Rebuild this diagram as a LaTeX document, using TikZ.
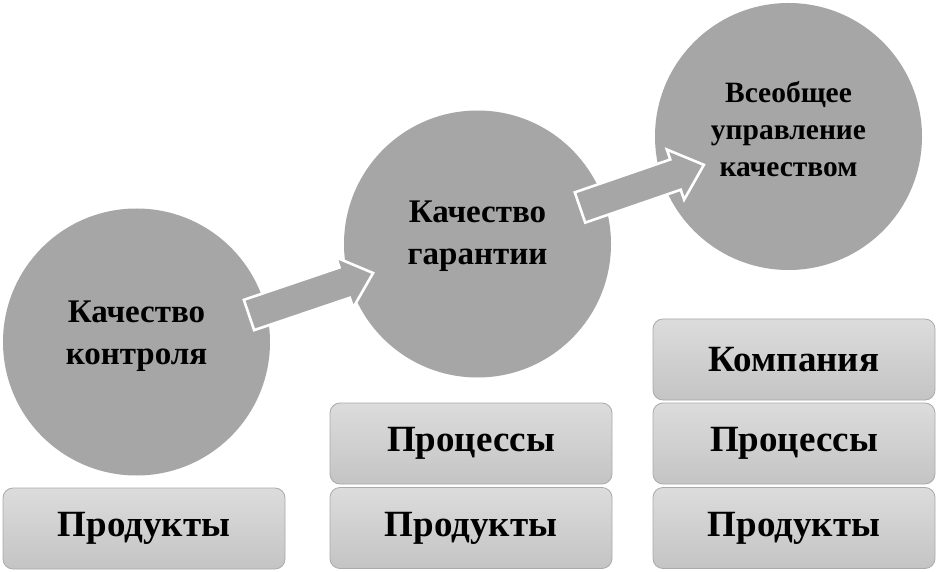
\documentclass[tikz,border=0pt]{standalone}
\usepackage{fontspec}
\setmainfont{Liberation Serif}
\tikzset{
  circ/.style={circle, fill=circgray, draw=none, minimum size=267pt, inner sep=0pt},
  ctext/.style={align=center, font=\bfseries\fontsize{33}{42}\selectfont, text=black},
  ctextsmall/.style={align=center, font=\bfseries\fontsize{29.5}{37}\selectfont, text=black},
  boxnode/.style={rectangle, rounded corners=10pt, draw=boxborder, line width=0.8pt,
    top color=boxtop, bottom color=boxbot, minimum width=282pt, minimum height=81pt,
    inner sep=0pt, font=\bfseries\fontsize{37}{42}\selectfont},
  blockarrow/.style={fill=circgray, draw=white, line width=2.6pt, line join=miter}
}
\definecolor{circgray}{HTML}{A6A6A6}
\definecolor{boxtop}{HTML}{DCDCDC}
\definecolor{boxbot}{HTML}{C4C4C4}
\definecolor{boxborder}{HTML}{AAAAAA}
\begin{document}
\begin{tikzpicture}[x=1pt,y=1pt]
\useasboundingbox (0,0) rectangle (937,571);
\fill[white] (0,0) rectangle (937,571);
% circles
\node[circ] (c1) at (136.5,229) {};
\node[circ] (c2) at (477.5,327) {};
\node[circ] (c3) at (788.5,434.5) {};
\node[ctext] (t1) at ([yshift=6pt]c1.center) {Качество\\контроля};
\node[ctext] (t2) at ([yshift=7.5pt]c2.center) {Качество\\гарантии};
\node[ctextsmall] (t3) at ([yshift=7pt]c3.center) {Всеобщее\\управление\\качеством};
% block arrows
\coordinate (a1) at (249,256);
\coordinate (a2) at (580,363.5);
\begin{scope}[shift={(a1)}, rotate=18.7]
  \draw[blockarrow] (0,-16) -- (101,-16) -- (101,-26.5) -- (131,0) -- (101,26.5) -- (101,16) -- (0,16) -- cycle;
\end{scope}
\begin{scope}[shift={(a2)}, rotate=19.0]
  \draw[blockarrow] (0,-16) -- (101,-16) -- (101,-26.5) -- (131,0) -- (101,26.5) -- (101,16) -- (0,16) -- cycle;
\end{scope}
% boxes
\node[boxnode] (b11) at (144,42.5) {Продукты};
\node[boxnode] (b22) at (471,127.5) {Процессы};
\node[boxnode] (b21) at (471,43) {Продукты};
\node[boxnode] (b33) at (794,211.5) {Компания};
\node[boxnode] (b32) at (794,127.5) {Процессы};
\node[boxnode] (b31) at (794,43) {Продукты};
\end{tikzpicture}
\end{document}
